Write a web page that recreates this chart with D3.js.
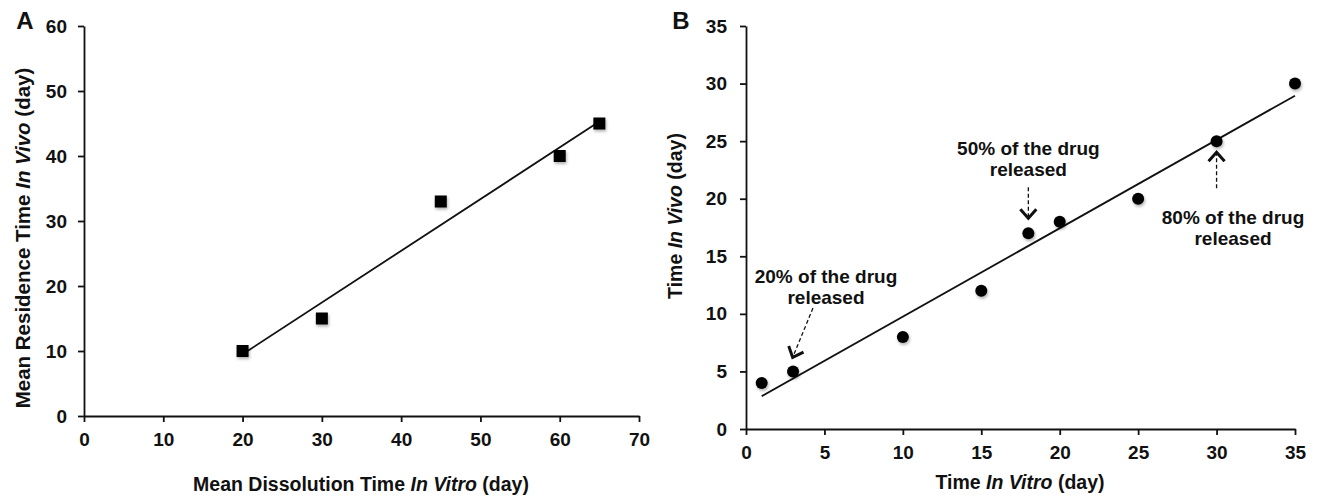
<!DOCTYPE html>
<html>
<head>
<meta charset="utf-8">
<script src="https://cdn.jsdelivr.net/npm/d3@7"></script>
<style>
  body { margin: 0; background: #fff; }
  svg text { font-family: "Liberation Sans", Arial, sans-serif; fill: #111; }
  .axis path, .axis line { stroke: #111; stroke-width: 1.8; }
  .axis .tick text { font-weight: bold; font-size: 19px; }
</style>
</head>
<body>
<div id="chart"></div>
<script>
// Panel A: mean dissolution time in vitro vs mean residence time in vivo
const dissolutionA = [20, 30, 45, 60, 65];
const residenceA = [10, 15, 33, 40, 45];
const trendAx = [20, 65];
const trendAy = [9.5, 45.3];
const ticksAx = [0, 10, 20, 30, 40, 50, 60, 70];
const ticksAy = [0, 10, 20, 30, 40, 50, 60];

// Panel B: time in vitro vs time in vivo
const inVitroB = [1, 3, 10, 15, 18, 20, 25, 30, 35];
const inVivoB = [4, 5, 8, 12, 17, 18, 20, 25, 30];
const trendBx = [1, 35];
const trendBy = [2.85, 28.95];
const ticksBx = [0, 5, 10, 15, 20, 25, 30, 35];
const ticksBy = [0, 5, 10, 15, 20, 25, 30, 35];

// annotation text anchors and arrows, in panel B data units
const noteLines = [
  ["20% of the drug", "released"],
  ["50% of the drug", "released"],
  ["80% of the drug", "released"],
];
const noteAt = [[5.1, 12.7], [18, 23.8], [31.05, 17.8]];
const arrowFrom = [[4.27, 10.5], [18, 21.0], [30, 20.9]];
const arrowTo = [[3.0, 6.3], [18, 18.4], [30, 23.95]];

const W = 1326, H = 500;

const svg = d3.select("#chart").append("svg")
  .attr("width", W).attr("height", H);

const defs = svg.append("defs");
const shadow = defs.append("filter").attr("id", "shadow")
  .attr("x", "-50%").attr("y", "-50%").attr("width", "200%").attr("height", "200%");
shadow.append("feDropShadow")
  .attr("dx", 1).attr("dy", 2).attr("stdDeviation", 1.4)
  .attr("flood-color", "#000").attr("flood-opacity", 0.3);

defs.append("marker").attr("id", "chev")
  .attr("viewBox", "-12 -12 24 24")
  .attr("markerUnits", "userSpaceOnUse")
  .attr("markerWidth", 24).attr("markerHeight", 24)
  .attr("refX", -1).attr("refY", 0)
  .attr("orient", "auto")
  .append("path")
  .attr("d", "M-9,-8L0,0L-9,8")
  .attr("fill", "none").attr("stroke", "#111").attr("stroke-width", 3);

function drawAxes(x, y, xt, yt, xPad, yPad) {
  const gx = svg.append("g").attr("class", "axis")
    .attr("transform", `translate(0,${y.range()[0]})`)
    .call(d3.axisBottom(x).tickValues(xt).tickSize(6).tickSizeOuter(0).tickPadding(xPad));
  const gy = svg.append("g").attr("class", "axis")
    .attr("transform", `translate(${x.range()[0]},0)`)
    .call(d3.axisLeft(y).tickValues(yt).tickSize(6).tickSizeOuter(0).tickPadding(yPad));
  [gx, gy].forEach(g => g.selectAll("text")
    .attr("font-weight", "bold").attr("font-size", 19)
    .attr("font-family", "Liberation Sans, Arial, sans-serif"));
}

function titleText(sel, parts) {
  parts.forEach(p => {
    sel.append("tspan").attr("font-style", p.italic ? "italic" : "normal").text(p.t);
  });
}

// ---------- Panel A ----------
const xA = d3.scaleLinear().domain([0, 70]).range([84, 639]);
const yA = d3.scaleLinear().domain([0, 60]).range([416, 26]);
drawAxes(xA, yA, ticksAx, ticksAy, 11, 11);

svg.append("line")
  .attr("x1", xA(trendAx[0])).attr("y1", yA(trendAy[0]))
  .attr("x2", xA(trendAx[1])).attr("y2", yA(trendAy[1]))
  .attr("stroke", "#111").attr("stroke-width", 1.8);

svg.selectAll("rect.ptA")
  .data(dissolutionA)
  .enter().append("rect")
  .attr("class", "ptA")
  .attr("x", (d) => xA(d) - 6)
  .attr("y", (d, i) => yA(residenceA[i]) - 6)
  .attr("width", 12).attr("height", 12)
  .attr("fill", "#000")
  .attr("filter", "url(#shadow)");

svg.append("text").attr("x", 25).attr("y", 29)
  .attr("text-anchor", "middle").attr("font-size", 24).attr("font-weight", "bold").text("A");

titleText(svg.append("text")
  .attr("transform", "translate(30,238) rotate(-90)")
  .attr("text-anchor", "middle").attr("font-size", 20.5).attr("font-weight", "bold"),
  [{ t: "Mean Residence Time " }, { t: "In Vivo", italic: true }, { t: " (day)" }]);

titleText(svg.append("text")
  .attr("x", 361).attr("y", 491)
  .attr("text-anchor", "middle").attr("font-size", 19.5).attr("font-weight", "bold"),
  [{ t: "Mean Dissolution Time " }, { t: "In Vitro", italic: true }, { t: " (day)" }]);

// ---------- Panel B ----------
const xB = d3.scaleLinear().domain([0, 35]).range([746, 1295]);
const yB = d3.scaleLinear().domain([0, 35]).range([429, 26]);
drawAxes(xB, yB, ticksBx, ticksBy, 11, 13);

svg.append("line")
  .attr("x1", xB(trendBx[0])).attr("y1", yB(trendBy[0]))
  .attr("x2", xB(trendBx[1])).attr("y2", yB(trendBy[1]))
  .attr("stroke", "#111").attr("stroke-width", 1.8);

svg.selectAll("circle.ptB")
  .data(inVitroB)
  .enter().append("circle")
  .attr("class", "ptB")
  .attr("cx", (d) => xB(d))
  .attr("cy", (d, i) => yB(inVivoB[i]))
  .attr("r", 6)
  .attr("fill", "#000")
  .attr("filter", "url(#shadow)");

svg.append("text").attr("x", 681).attr("y", 29)
  .attr("text-anchor", "middle").attr("font-size", 24).attr("font-weight", "bold").text("B");

titleText(svg.append("text")
  .attr("transform", "translate(682,216) rotate(-90)")
  .attr("text-anchor", "middle").attr("font-size", 19.5).attr("font-weight", "bold"),
  [{ t: "Time " }, { t: "In Vivo", italic: true }, { t: " (day)" }]);

titleText(svg.append("text")
  .attr("x", 1020).attr("y", 489)
  .attr("text-anchor", "middle").attr("font-size", 19.5).attr("font-weight", "bold"),
  [{ t: "Time " }, { t: "In Vitro", italic: true }, { t: " (day)" }]);

// annotations
noteLines.forEach((lines, i) => {
  const t = svg.append("text")
    .attr("text-anchor", "middle").attr("font-size", 19).attr("font-weight", "bold");
  lines.forEach((ln, j) => {
    t.append("tspan")
      .attr("x", xB(noteAt[i][0]))
      .attr("y", yB(noteAt[i][1]) + j * 21)
      .text(ln);
  });
  svg.append("line")
    .attr("x1", xB(arrowFrom[i][0])).attr("y1", yB(arrowFrom[i][1]))
    .attr("x2", xB(arrowTo[i][0])).attr("y2", yB(arrowTo[i][1]))
    .attr("stroke", "#111").attr("stroke-width", 1.3)
    .attr("stroke-dasharray", "4,2.5")
    .attr("marker-end", "url(#chev)");
});
</script>
</body>
</html>
